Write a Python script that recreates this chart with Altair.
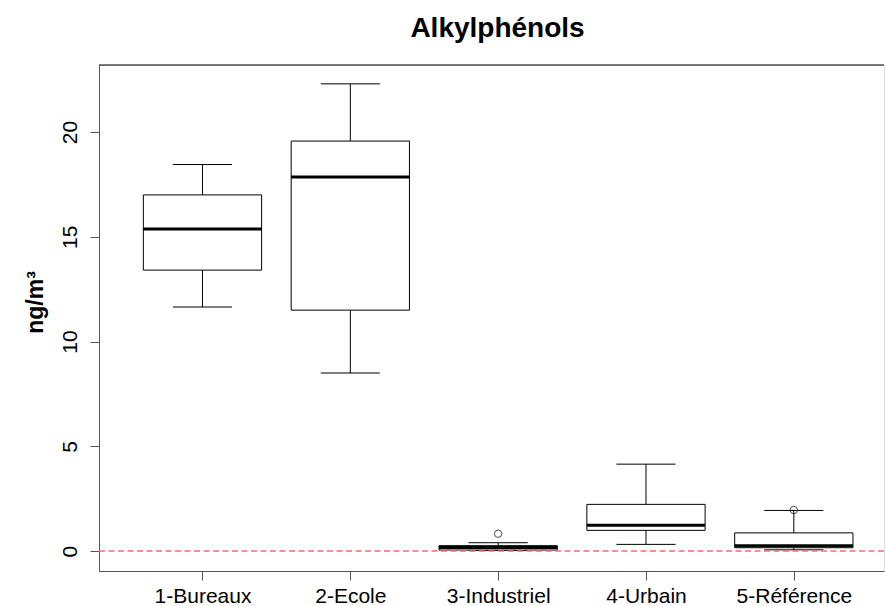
import json
import altair as alt
import pandas as pd

# ---- data ----
categories = ["1-Bureaux", "2-Ecole", "3-Industriel", "4-Urbain", "5-Référence"]
positions = [1, 2, 3, 4, 5]
whisker_low = [11.65, 8.50, 0.04, 0.32, 0.06]
q1 = [13.41, 11.50, 0.05, 0.99, 0.16]
median = [15.37, 17.85, 0.17, 1.23, 0.25]
q3 = [17.00, 19.57, 0.26, 2.23, 0.87]
whisker_high = [18.45, 22.30, 0.40, 4.15, 1.94]
outlier_pos = [3, 5]
outlier_val = [0.83, 1.96]
y_ticks = [0, 5, 10, 15, 20]

BOX_HALF = 0.4
CAP_HALF = 0.2
FONT = "Liberation Sans"

df = pd.DataFrame({
    "pos": positions, "cat": categories,
    "lo": whisker_low, "q1": q1, "med": median, "q3": q3, "hi": whisker_high,
})
df_out = pd.DataFrame({"pos": outlier_pos, "val": outlier_val})
df_zero = pd.DataFrame({"y": [0]})

xscale = alt.Scale(domain=[0.3, 5.61], nice=False, zero=False)
yscale = alt.Scale(domain=[-0.95, 23.2], nice=False, zero=False)

label_expr = json.dumps(categories) + "[datum.value - 1]"

base = alt.Chart(df).transform_calculate(
    bl=f"datum.pos - {BOX_HALF}", br=f"datum.pos + {BOX_HALF}",
    cl=f"datum.pos - {CAP_HALF}", cr=f"datum.pos + {CAP_HALF}",
)

x_axis = alt.Axis(values=positions, labelExpr=label_expr, title=None, grid=False,
                  tickSize=9, labelPadding=22, labelBaseline="alphabetic",
                  labelFontSize=21, labelFont=FONT, labelColor="black",
                  domainColor="#555555", tickColor="#555555", labelFlush=False)
y_axis = alt.Axis(values=y_ticks, title="ng/m³", grid=False,
                  tickSize=9, labelPadding=14, labelAngle=270, labelAlign="center",
                  labelBaseline="alphabetic", labelFontSize=21, labelFont=FONT,
                  labelColor="black", domainColor="#555555", tickColor="#555555",
                  titleFont=FONT, titleFontSize=23, titleFontWeight="bold",
                  titleAngle=270, titleAlign="center", titleBaseline="alphabetic",
                  titleX=-57, titleY=237, titleColor="black")

whisk_up = base.mark_rule(color="black", strokeWidth=1).encode(
    x=alt.X("pos:Q", scale=xscale, axis=x_axis),
    y=alt.Y("q3:Q", scale=yscale, axis=y_axis), y2="hi:Q")
whisk_dn = base.mark_rule(color="black", strokeWidth=1).encode(
    x=alt.X("pos:Q", scale=xscale), y=alt.Y("lo:Q", scale=yscale), y2="q1:Q")
cap_hi = base.mark_rule(color="black", strokeWidth=1).encode(
    x=alt.X("cl:Q", scale=xscale), x2="cr:Q", y=alt.Y("hi:Q", scale=yscale))
cap_lo = base.mark_rule(color="black", strokeWidth=1).encode(
    x=alt.X("cl:Q", scale=xscale), x2="cr:Q", y=alt.Y("lo:Q", scale=yscale))
boxes = base.mark_rect(fill="white", stroke="black", strokeWidth=1).encode(
    x=alt.X("bl:Q", scale=xscale), x2="br:Q",
    y=alt.Y("q1:Q", scale=yscale), y2="q3:Q")
meds = base.mark_rule(color="black", strokeWidth=3).encode(
    x=alt.X("bl:Q", scale=xscale), x2="br:Q", y=alt.Y("med:Q", scale=yscale))
outs = alt.Chart(df_out).mark_point(shape="circle", filled=False, color="black",
                                     size=55, strokeWidth=1).encode(
    x=alt.X("pos:Q", scale=xscale), y=alt.Y("val:Q", scale=yscale))
zero_line = alt.Chart(df_zero).mark_rule(color="#FF6A6A", strokeWidth=1.5,
                                          strokeDash=[6, 3.5]).encode(
    y=alt.Y("y:Q", scale=yscale))
top_frame = alt.Chart(df_zero).mark_rule(color="black", strokeWidth=1.2).encode(
    y=alt.value(0))

chart = alt.layer(
    whisk_up, whisk_dn, cap_hi, cap_lo, boxes, meds, outs, zero_line, top_frame
).properties(
    width=785, height=506,
    title=alt.TitleParams("Alkylphénols", font=FONT, fontSize=28, fontWeight="bold",
                          anchor="middle", dx=6, dy=29, offset=28,
                          baseline="alphabetic", color="black"),
    autosize=alt.AutoSizeParams(type="none"),
    padding={"left": 99, "top": 65, "right": 1, "bottom": 35},
).configure_view(stroke=None).configure(background="white")

chart.save("out.html", embed_options={"renderer": "svg", "actions": False})
